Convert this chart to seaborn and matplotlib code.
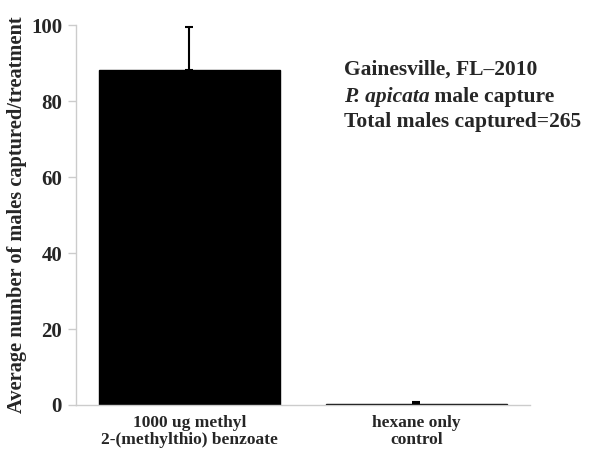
import matplotlib
matplotlib.use("Agg")
import matplotlib.pyplot as plt
import seaborn as sns
import pandas as pd
import numpy as np

categories = ["1000 ug methyl\n2-(methylthio) benzoate", "hexane only\ncontrol"]
means = [88.2, 0.3]
errors = [11.3, 0.4]

sns.set_theme(style="white")
plt.rcParams['font.family'] = ['Liberation Serif', 'DejaVu Serif']

df = pd.DataFrame({"cat": categories, "val": means})

fig = plt.figure(figsize=(5.96, 4.49), dpi=100)
ax = fig.add_axes([0.1275, 0.098, 0.889 - 0.1275, 0.944 - 0.098])
sns.barplot(data=df, x="cat", y="val", color="black", width=0.8, ax=ax,
            errorbar=None, saturation=1, edgecolor="black", linewidth=1)

centers = [p.get_x() + p.get_width() / 2 for p in ax.patches]
ax.errorbar(centers, means, yerr=[np.zeros(len(errors)), errors], fmt="none",
            ecolor="black", elinewidth=1.5, capsize=3, capthick=1.5)

ax.set_xlim(-0.5, 1.5)
ax.set_ylim(0, 100)
ax.set_yticks([0, 20, 40, 60, 80, 100])
ax.set_yticklabels(["0", "20", "40", "60", "80", "100"], fontsize=15, fontweight="bold")
ax.set_xticks(range(len(categories)))
ax.set_xticklabels(categories, fontsize=12.5, fontweight="bold", linespacing=1.1)
ax.set_xticks([-0.5, 0.5, 1.5], minor=True)
ax.tick_params(axis="x", which="major", length=0, pad=7)
ax.tick_params(axis="x", which="minor", direction="in", length=6, color="#cccccc", width=1)
ax.tick_params(axis="y", which="major", direction="out", length=6, color="#cccccc", width=1, left=True, pad=4)
ax.set_xlabel("")
ax.set_ylabel("Average number of males captured/treatment", fontsize=14.7, fontweight="bold", labelpad=3)

for s in ["top", "right"]:
    ax.spines[s].set_visible(False)
for s in ["left", "bottom"]:
    ax.spines[s].set_color("#cccccc")
    ax.spines[s].set_linewidth(1)

tkw = dict(fontsize=15.5, fontweight="bold")
ax.text(0.59, 0.882, "Gainesville, FL\u20132010", transform=ax.transAxes, va="center", **tkw)
t_it = ax.text(0.59, 0.811, "P. apicata", transform=ax.transAxes, va="center",
               fontstyle="italic", **tkw)
ax.annotate(" male capture", xy=(1, 0.5), xycoords=t_it, va="center", ha="left", **tkw)
ax.text(0.59, 0.745, "Total males captured=265", transform=ax.transAxes, va="center", **tkw)

fig.savefig("out.png", dpi=100)
